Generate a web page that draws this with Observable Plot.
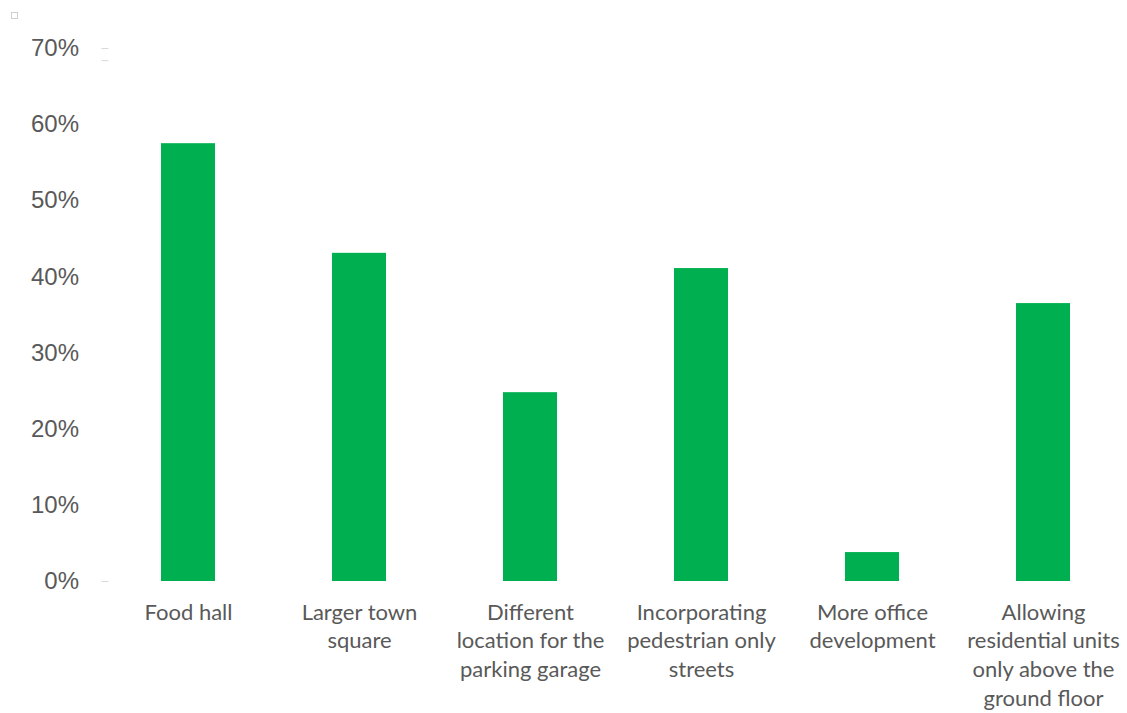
<!DOCTYPE html>
<html>
<head>
<meta charset="utf-8">
<script src="https://cdn.jsdelivr.net/npm/d3@7"></script>
<script src="https://cdn.jsdelivr.net/npm/@observablehq/plot@0.6"></script>
<style>
  html, body { margin: 0; padding: 0; background: #fff; }
  #wrap { position: relative; width: 1127px; height: 713px; overflow: hidden; }
  #marker { position: absolute; left: 11px; top: 12px; width: 5px; height: 5px; border: 1px solid #d0d0d0; }
</style>
</head>
<body>
<div id="wrap"><div id="marker"></div><div id="chart"></div></div>
<script>
const categories = [
  "Food hall",
  "Larger town\nsquare",
  "Different\nlocation for the\nparking garage",
  "Incorporating\npedestrian only\nstreets",
  "More office\ndevelopment",
  "Allowing\nresidential units\nonly above the\nground floor"
];
const values = [0.575, 0.431, 0.248, 0.411, 0.038, 0.365];
const yTicks = [0, 0.1, 0.2, 0.3, 0.4, 0.5, 0.6, 0.7];
const dashTicks = [0, 0.684, 0.7];

const data = categories.map((c, i) => ({category: c, value: values[i]}));

const chart = Plot.plot({
  width: 1127,
  height: 713,
  marginLeft: 102.5,
  marginRight: -1.5,
  marginTop: 48,
  marginBottom: 132,
  style: {background: "#fff", color: "#595959", overflow: "visible"},
  x: {domain: categories, paddingInner: 0.684, paddingOuter: 0.342, round: false, label: null},
  y: {domain: [0, 0.7], label: null},
  marks: [
    Plot.axisY({ticks: yTicks, tickFormat: d => Math.round(d * 100) + "%", tickSize: 0, tickPadding: 24,
      fontSize: 24, fontFamily: "Liberation Sans, Arial, sans-serif", fill: "#595959", label: null}),
    Plot.axisY({ticks: dashTicks, tickFormat: () => "", tickSize: 7, tickPadding: 0, dx: 6, stroke: "#d9d9d9", label: null}),
    Plot.barY(data, {x: "category", y: "value", fill: "#00B050"}),
    Plot.axisX({tickSize: 0, tickPadding: 18, fontSize: 22, lineHeight: 1.3,
      fontFamily: "Lato, Carlito, Calibri, sans-serif", fill: "#595959", label: null, textOverflow: null})
  ]
});
document.getElementById("chart").appendChild(chart);
</script>
</body>
</html>
